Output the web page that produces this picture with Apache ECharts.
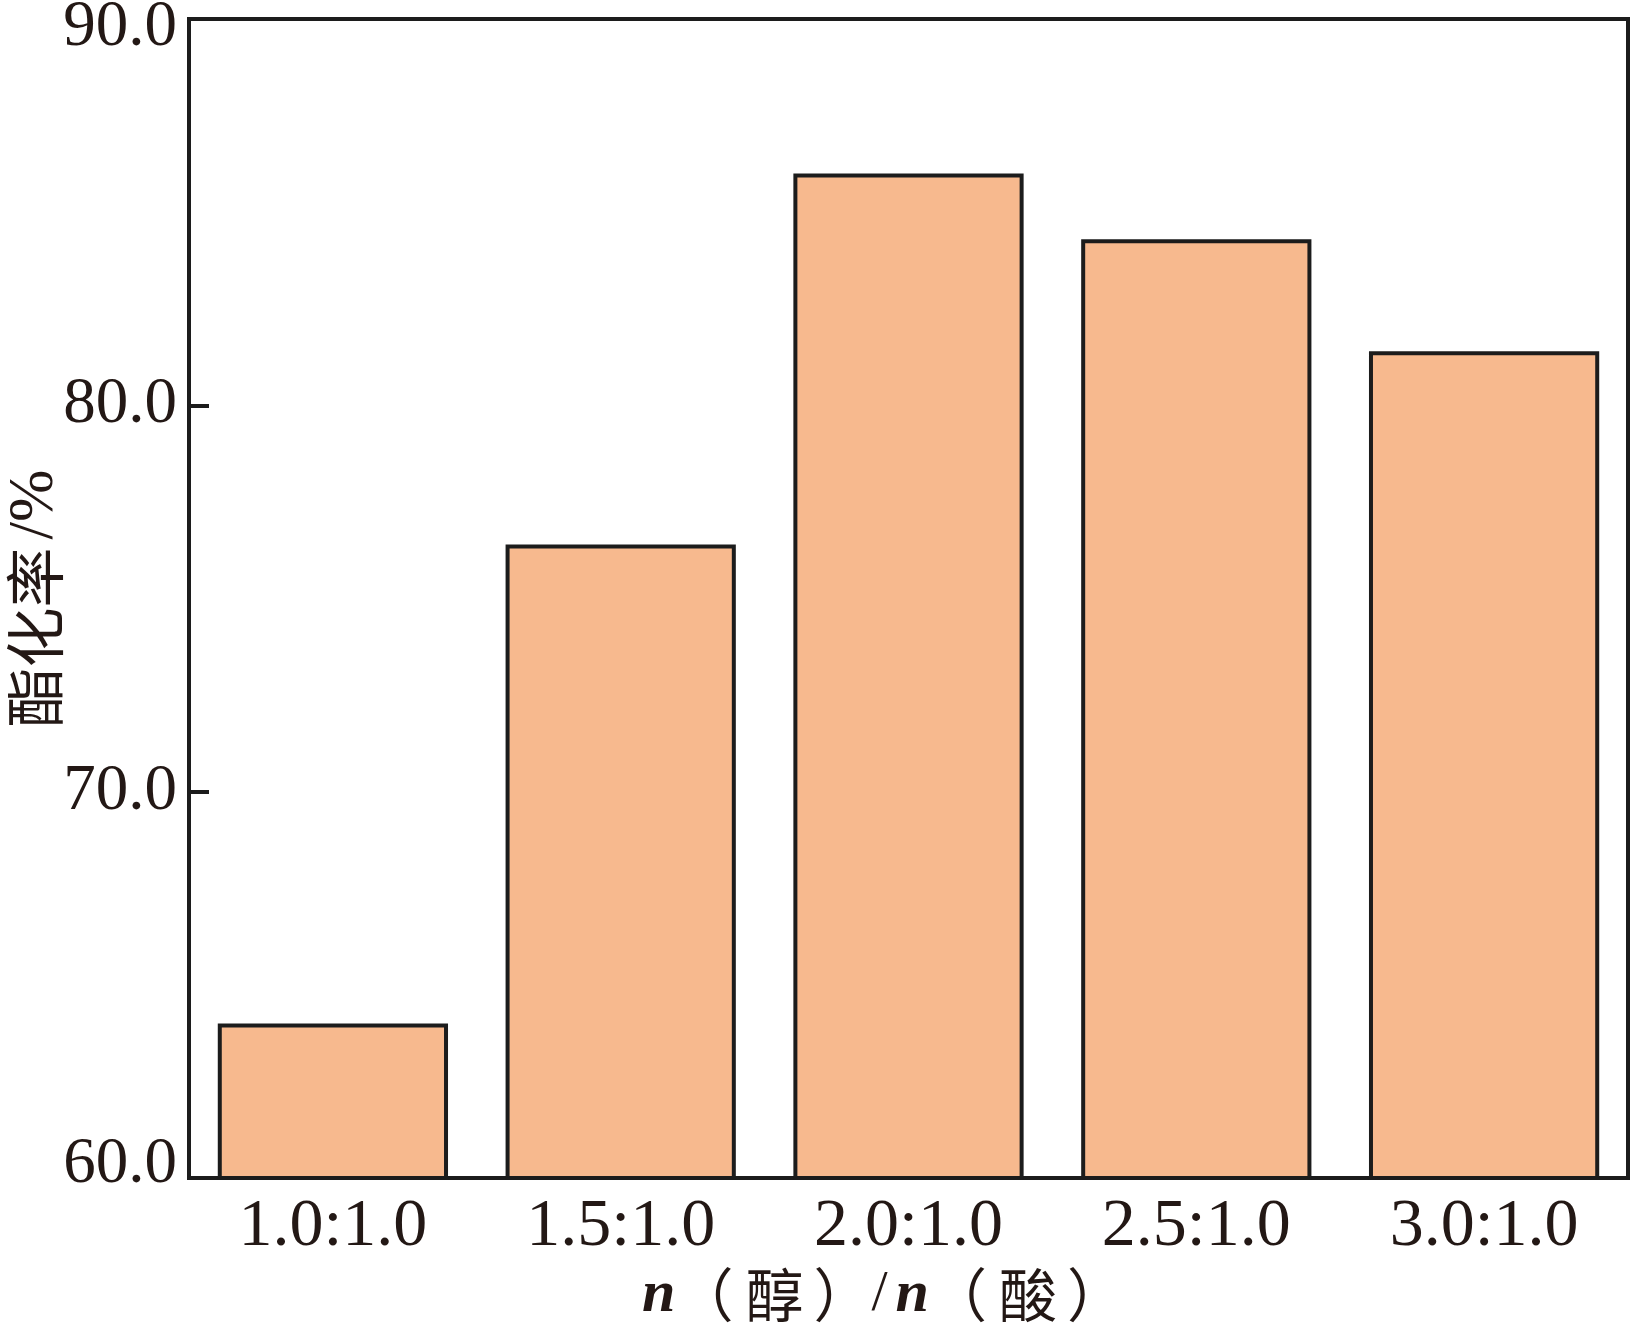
<!DOCTYPE html>
<html>
<head>
<meta charset="utf-8">
<script src="https://cdn.jsdelivr.net/npm/echarts@6/dist/echarts.min.js"></script>
<style>html,body{margin:0;padding:0;background:#fff;}#c{width:1631px;height:1335px;}</style>
</head>
<body>
<div id="c"></div>
<script>
const categories = ['1.0:1.0', '1.5:1.0', '2.0:1.0', '2.5:1.0', '3.0:1.0'];
const esterRate = [64.0, 76.4, 86.0, 84.3, 81.4];
const yTicks = [60, 70, 80, 90];

const chart = echarts.init(document.getElementById('c'), null, {renderer: 'canvas'});
const ink = '#231815';
const line = '#1c1c1c';
const yMin = yTicks[0], yMax = yTicks[yTicks.length - 1];
chart.setOption({
  backgroundColor: '#ffffff',
  animation: false,
  grid: {left: 189, right: 3, top: 19, bottom: 157, show: true, borderColor: line, borderWidth: 4,
    containLabel: false, outerBoundsMode: 'none'},
  xAxis: {
    type: 'category',
    data: categories,
    axisLine: {lineStyle: {color: line, width: 4}},
    axisTick: {show: false},
    axisLabel: {fontFamily: 'Liberation Serif', fontSize: 68, color: ink, margin: 15},
    name: '{i|n}{pl|（}{c|醇}{pr|）}{s|/}{i|n}{pl|（}{c|酸}{pr|）}',
    nameLocation: 'middle',
    nameGap: 87,
    nameMoveOverlap: false,
    nameTextStyle: {
      padding: [0, 50, 0, 0],
      rich: {
        i: {fontFamily: 'Liberation Serif', fontStyle: 'italic', fontWeight: 'bold', fontSize: 60, color: ink},
        c: {fontFamily: 'Noto Sans CJK SC', fontSize: 58, color: ink},
        pl: {fontFamily: 'Noto Sans CJK SC', fontSize: 58, color: ink, padding: [0, 12, 0, 0]},
        pr: {fontFamily: 'Noto Sans CJK SC', fontSize: 58, color: ink, padding: [0, 0, 0, 10]},
        s: {fontFamily: 'Liberation Serif', fontSize: 58, color: ink, padding: [0, 8, 0, 0]}
      }
    }
  },
  yAxis: {
    type: 'value',
    min: yMin,
    max: yMax,
    interval: 10,
    axisLine: {show: true, lineStyle: {color: line, width: 4}},
    axisTick: {show: true, inside: true, length: 20, lineStyle: {color: line, width: 4}},
    splitLine: {show: false},
    axisLabel: {fontFamily: 'Liberation Serif', fontSize: 65, color: ink, margin: 12,
      formatter: v => v === yMax ? '{t|' + v.toFixed(1) + '}' : (v === yMin ? '{b|' + v.toFixed(1) + '}' : v.toFixed(1)),
      rich: {
        t: {fontFamily: 'Liberation Serif', fontSize: 65, color: ink, padding: [18, 0, 0, 0]},
        b: {fontFamily: 'Liberation Serif', fontSize: 65, color: ink, padding: [0, 0, 26, 0]}
      }
    },
    name: '{c|酯化率}{s|/%}',
    nameLocation: 'middle',
    nameRotate: 90,
    nameGap: 122,
    nameMoveOverlap: false,
    nameTextStyle: {
      rich: {
        c: {fontFamily: 'Noto Sans CJK SC', fontSize: 60, color: ink},
        s: {fontFamily: 'Liberation Serif', fontSize: 63, color: ink, padding: [0, 0, 0, 8]}
      }
    }
  },
  series: [{
    type: 'bar',
    data: esterRate,
    barCategoryGap: '20%',
    itemStyle: {color: '#F7B98E', borderColor: line, borderWidth: 4}
  }]
});
</script>
</body>
</html>
